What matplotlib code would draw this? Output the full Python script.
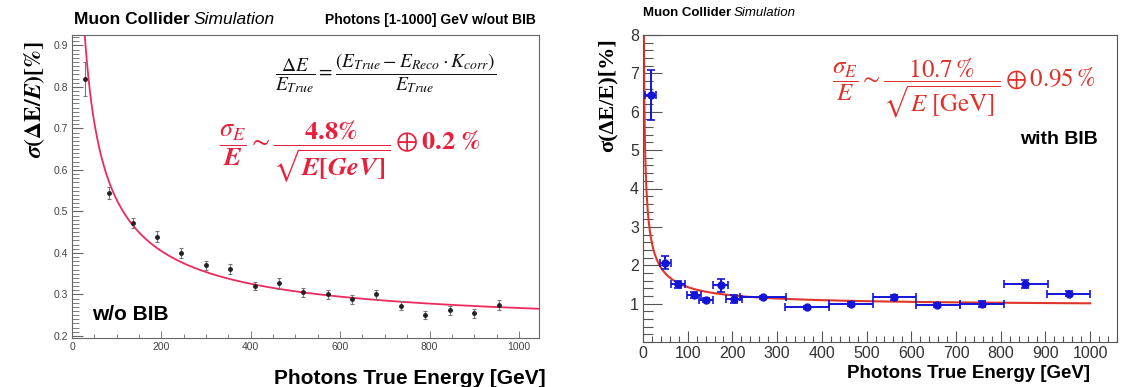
import numpy as np
import matplotlib
matplotlib.use("Agg")
import matplotlib.pyplot as plt
from matplotlib.ticker import MultipleLocator, FixedLocator

W, H = 1121, 387

# ---- left panel: photons without BIB ----
nobib_e = [28, 83, 137, 191, 245, 300, 354, 410, 463, 517, 572, 627, 681, 736, 791, 845, 899, 955]
nobib_res = [0.819, 0.545, 0.471, 0.439, 0.400, 0.370, 0.361, 0.321, 0.327, 0.305,
             0.300, 0.288, 0.300, 0.273, 0.251, 0.262, 0.255, 0.274]
nobib_err = [0.042, 0.015, 0.012, 0.013, 0.012, 0.010, 0.012, 0.010, 0.013, 0.011,
             0.011, 0.011, 0.010, 0.010, 0.010, 0.011, 0.011, 0.012]
nobib_stoch, nobib_const = 4.8, 0.22

# ---- right panel: photons with BIB ----
bib_e = [17, 50, 79, 114, 141, 174, 204, 269, 367, 465, 562, 658, 757, 855, 952]
bib_exlo = [12, 13, 16, 15, 15, 17, 18, 52, 50, 49, 47, 48, 48, 48, 49]
bib_exhi = [13, 13, 16, 15, 15, 17, 18, 50, 49, 50, 48, 50, 50, 51, 48]
bib_res = [6.44, 2.06, 1.50, 1.23, 1.09, 1.48, 1.12, 1.16, 0.90, 0.99, 1.16, 0.96, 0.99, 1.52, 1.26]
bib_err = [0.66, 0.17, 0.09, 0.08, 0.06, 0.17, 0.10, 0.05, 0.05, 0.06, 0.07, 0.06, 0.07, 0.10, 0.07]
bib_stoch, bib_const = 10.7, 0.95

plt.rcParams["font.family"] = ["Liberation Sans", "DejaVu Sans"]
plt.rcParams["mathtext.fontset"] = "stix"


def rect(x0, y0, x1, y1):
    return [x0 / W, 1 - y1 / H, (x1 - x0) / W, (y1 - y0) / H]


def fxy(x, y):
    return x / W, 1 - y / H


fig = plt.figure(figsize=(W / 100, H / 100), dpi=100)

# left axes
ax1 = fig.add_axes(rect(72, 35, 539, 338))
e = np.linspace(20, 1045, 600)
ax1.plot(e, np.sqrt(nobib_stoch**2 / e + nobib_const**2), color="#ec2a5e", lw=1.3, zorder=2)
ax1.errorbar(nobib_e, nobib_res, yerr=nobib_err, fmt="o", ms=2.5, color="#222222",
             ecolor="#777777", elinewidth=0.8, capsize=1.5, capthick=0.8, zorder=3)
ax1.set_xlim(0, 1045)
ax1.set_ylim(0.195, 0.925)
ax1.xaxis.set_major_locator(MultipleLocator(200))
ax1.xaxis.set_minor_locator(MultipleLocator(50))
ax1.yaxis.set_major_locator(MultipleLocator(0.1))
ax1.yaxis.set_minor_locator(MultipleLocator(0.01))
ax1.yaxis.set_major_formatter(matplotlib.ticker.FormatStrFormatter("%.1f"))
ax1.tick_params(which="both", direction="in", labelsize=7.5, labelcolor="#444444",
                color="#666666", pad=3)
ax1.tick_params(axis="y", which="major", length=8, width=0.8)
ax1.tick_params(axis="y", which="minor", length=5, width=0.6)
ax1.tick_params(axis="x", which="major", length=5, width=0.6)
ax1.tick_params(axis="x", which="minor", length=3, width=0.6)
for s in ax1.spines.values():
    s.set_color("#666666"); s.set_linewidth(0.8)

# right axes
ax2 = fig.add_axes(rect(643, 35, 1117, 342))
e2 = np.linspace(1.5, 1000, 800)
ax2.plot(e2, np.sqrt(bib_stoch**2 / e2 + bib_const**2), color="#e0352a", lw=1.5, zorder=2)
ax2.errorbar(bib_e, bib_res, xerr=[bib_exlo, bib_exhi], yerr=bib_err, fmt="o", ms=5,
             color="#1414d8", elinewidth=1.4, capsize=3, capthick=1.2, zorder=3)
ax2.set_xlim(0, 1060)
ax2.set_ylim(0, 8)
ax2.xaxis.set_major_locator(MultipleLocator(100))
ax2.xaxis.set_minor_locator(MultipleLocator(20))
ax2.yaxis.set_major_locator(FixedLocator([1, 2, 3, 4, 5, 6, 7, 8]))
ax2.yaxis.set_minor_locator(MultipleLocator(0.2))
ax2.tick_params(which="both", direction="in", labelsize=11.5, labelcolor="#333333",
                color="#555555", pad=3)
ax2.tick_params(axis="y", which="major", length=14, width=0.8)
ax2.tick_params(axis="y", which="minor", length=7, width=0.8)
ax2.tick_params(axis="x", which="major", length=8, width=0.8)
ax2.tick_params(axis="x", which="minor", length=4, width=0.8)
for s in ax2.spines.values():
    s.set_color("#555555"); s.set_linewidth(0.8)

# headers
r = fig.canvas.get_renderer()
t = fig.text(*fxy(74, 20), "Muon Collider", fontsize=12.5, fontweight="bold", va="center")
bb = t.get_window_extent(r)
fig.text(bb.x1 / W + 4 / W, 1 - 20 / H, "Simulation", fontsize=12.5, style="italic", va="center")
fig.text(*fxy(536, 20), "Photons [1-1000] GeV w/out BIB", fontsize=10, fontweight="bold",
         va="center", ha="right")

t2 = fig.text(*fxy(643, 13), "Muon Collider", fontsize=9.5, fontweight="bold", va="center")
bb2 = t2.get_window_extent(r)
fig.text(bb2.x1 / W + 3 / W, 1 - 13 / H, "Simulation", fontsize=9.5, style="italic", va="center")

# axis titles
fig.text(*fxy(35, 100), r"$\boldsymbol{\sigma}\mathbf{(\Delta E/}\boldsymbol{E}\mathbf{)[\%]}$",
         fontsize=17, rotation=90, ha="center", va="center")
fig.text(*fxy(546, 378), "Photons True Energy [GeV]", fontsize=15, fontweight="bold",
         ha="right", va="center")
fig.text(*fxy(608, 95), "σ(ΔE/E)[%]", family=["Liberation Serif", "DejaVu Serif"],
         fontsize=16, fontweight="bold", rotation=90, ha="center", va="center")
fig.text(*fxy(1090, 373), "Photons True Energy [GeV]", fontsize=13.5, fontweight="bold",
         ha="right", va="center")

# annotations
fig.text(*fxy(92, 315), "w/o BIB", fontsize=15, fontweight="bold", va="center")
fig.text(*fxy(1098, 140), "with BIB", fontsize=14, fontweight="bold", va="center", ha="right")

fig.text(*fxy(386, 73),
         r"$\dfrac{\Delta E}{E_{True}} = \dfrac{(E_{True} - E_{Reco}\cdot K_{corr})}{E_{True}}$",
         fontsize=14, ha="center", va="center", color="#111111")
fig.text(*fxy(350, 152),
         r"$\dfrac{\boldsymbol{\sigma_E}}{\boldsymbol{E}} \sim "
         r"\dfrac{\mathbf{4.8\%}}{\sqrt{\boldsymbol{E}\mathbf{[}\boldsymbol{GeV}\mathbf{]}}}"
         r" \oplus \mathbf{0.2\ \%}$",
         fontsize=19, ha="center", va="center", color="#e8203c")
fig.text(*fxy(964, 88),
         r"$\dfrac{\sigma_E}{E} \sim \dfrac{10.7\,\%}{\sqrt{E\ [\mathrm{GeV}]}} \oplus 0.95\,\%$",
         fontsize=18, ha="center", va="center", color="#e0302a")

fig.savefig("out.png", dpi=100, facecolor="white")
